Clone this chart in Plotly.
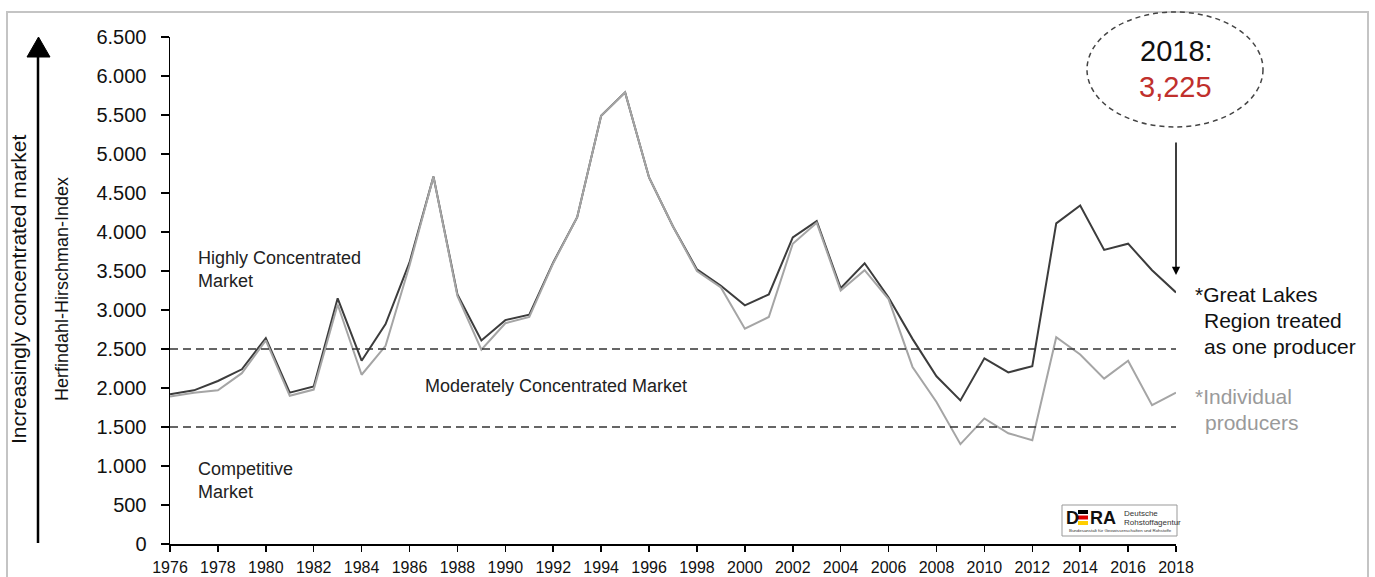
import plotly.graph_objects as go

# Herfindahl-Hirschman-Index, 1976-2018
years = list(range(1976, 2019))
great_lakes_one_producer = [
    1920, 1970, 2090, 2240, 2640, 1940, 2020, 3150, 2350, 2820,
    3610, 4710, 3200, 2610, 2870, 2940, 3610, 4190, 5490, 5790,
    4700, 4070, 3520, 3310, 3060, 3200, 3930, 4140, 3280, 3600,
    3160, 2630, 2150, 1840, 2380, 2200, 2280, 4110, 4340, 3770,
    3850, 3510, 3225,
]
individual_producers = [
    1890, 1940, 1970, 2190, 2610, 1900, 1980, 3070, 2170, 2540,
    3570, 4710, 3180, 2490, 2830, 2910, 3600, 4190, 5490, 5790,
    4700, 4070, 3500, 3290, 2760, 2910, 3850, 4120, 3250, 3510,
    3140, 2270, 1820, 1280, 1610, 1420, 1330, 2650, 2430, 2120,
    2350, 1780, 1940,
]
thresholds = [2500, 1500]
x_tickvals = list(range(1976, 2019, 2))
y_tickvals = list(range(0, 6501, 500))
y_ticktext = ["0", "500", "1.000", "1.500", "2.000", "2.500", "3.000",
              "3.500", "4.000", "4.500", "5.000", "5.500", "6.000", "6.500"]
highlight_label = "3,225"

W, H = 1375, 577
L, R, T, B = 170, 199, 37, 33
PW, PH = W - L - R, H - T - B


def px(x):
    return (x - L) / PW


def py(y):
    return (H - B - y) / PH


FONT = "Liberation Sans, Arial, sans-serif"
BLACK_LINE = "#3c3c3c"
GRAY_LINE = "#a5a5a5"

fig = go.Figure()
fig.add_trace(go.Scatter(x=years, y=great_lakes_one_producer, mode="lines",
                         line=dict(color=BLACK_LINE, width=2), hoverinfo="skip"))
fig.add_trace(go.Scatter(x=years, y=individual_producers, mode="lines",
                         line=dict(color=GRAY_LINE, width=2), hoverinfo="skip"))

shapes = []
# threshold lines
for t in thresholds:
    shapes.append(dict(type="line", xref="x", yref="y", x0=years[0], x1=years[-1],
                       y0=t, y1=t, line=dict(color="#333333", width=1.5, dash="8px,5px")))
# outer frame
shapes.append(dict(type="rect", xref="paper", yref="paper", x0=px(7), x1=px(1368),
                   y0=py(600), y1=py(12), line=dict(color="#c4c4c4", width=2), layer="below"))
# vertical arrow on the left
shapes.append(dict(type="line", xref="paper", yref="paper", x0=px(38), x1=px(38),
                   y0=py(543), y1=py(55), line=dict(color="black", width=2.5)))
shapes.append(dict(type="path", xref="paper", yref="paper",
                   path=f"M {px(27)} {py(57)} L {px(50)} {py(57)} L {px(38.5)} {py(37)} Z",
                   fillcolor="black", line=dict(color="black", width=1)))
# dashed ellipse around the 2018 callout
shapes.append(dict(type="circle", xref="paper", yref="paper", x0=px(1087), x1=px(1263),
                   y0=py(127), y1=py(12), line=dict(color="#444444", width=1.5, dash="5px,4px")))
# DERA logo box and flag-coloured E
shapes.append(dict(type="rect", xref="paper", yref="paper", x0=px(1062), x1=px(1177),
                   y0=py(536), y1=py(505), line=dict(color="#999999", width=1),
                   fillcolor="white"))
for (ya, yb, col) in [(510, 514, "#000000"), (515.5, 519.5, "#dd0000"), (521, 525, "#ffce00")]:
    shapes.append(dict(type="rect", xref="paper", yref="paper", x0=px(1078), x1=px(1088),
                       y0=py(yb), y1=py(ya), line=dict(width=0), fillcolor=col))

ann = []


def text(x, y, s, size, color="#222222", xanchor="left", yanchor="middle", **kw):
    ann.append(dict(xref="paper", yref="paper", x=px(x), y=py(y), text=s, showarrow=False,
                    xanchor=xanchor, yanchor=yanchor,
                    font=dict(family=FONT, size=size, color=color), **kw))


text(196, 258, "Highly Concentrated", 18)
text(196, 281, "Market", 18)
text(423, 386, "Moderately Concentrated Market", 18)
text(196, 469, "Competitive", 18)
text(196, 492, "Market", 18)

text(1193, 295, "*Great Lakes", 21, color="#111111")
text(1202, 320, "Region treated", 21, color="#111111")
text(1202, 346, "as one producer", 21, color="#111111")
text(1193, 396, "*Individual", 21, color="#9a9a9a")
text(1203, 422, "producers", 21, color="#9a9a9a")

text(1176, 51, "2018:", 29, color="#111111", xanchor="center")
text(1175, 87, highlight_label, 29, color="#c0302c", xanchor="center")

text(18, 290, "Increasingly concentrated market", 21, color="#111111",
     xanchor="center", textangle=-90)
text(62, 289, "Herfindahl-Hirschman-Index", 18, color="#111111",
     xanchor="center", textangle=-90)

# logo lettering
text(1064, 518, "<b>D</b>", 18, color="#111111")
text(1088, 518, "<b>RA</b>", 18, color="#111111")
text(1122, 513, "Deutsche", 8, color="#333333")
text(1122, 522, "Rohstoffagentur", 8, color="#333333")
text(1120, 530.5, "Bundesanstalt für Geowissenschaften und Rohstoffe", 4.4,
     color="#333333", xanchor="center")

# arrow from the callout to the last 2018 value
ann.append(dict(xref="x", yref="y", x=years[-1], y=great_lakes_one_producer[-1] + 224,
                ax=0, ay=-134, text="", showarrow=True, arrowhead=2, arrowsize=1.1,
                arrowwidth=1.5, arrowcolor="black"))

fig.update_layout(
    width=W, height=H,
    margin=dict(l=L, r=R, t=T, b=B, autoexpand=False),
    paper_bgcolor="white", plot_bgcolor="white",
    showlegend=False,
    shapes=shapes, annotations=ann,
    font=dict(family=FONT, color="#111111"),
)
fig.update_xaxes(range=[years[0], years[-1]], tickvals=x_tickvals, showgrid=False,
                 zeroline=False, showline=True, linecolor="black", linewidth=1.5,
                 ticks="outside", ticklen=6, tickcolor="black", tickwidth=1.5,
                 ticklabelstandoff=2, automargin=False,
                 tickfont=dict(size=16, color="#111111"), fixedrange=True)
fig.update_yaxes(range=[0, 6500], tickvals=y_tickvals, ticktext=y_ticktext, showgrid=False,
                 zeroline=False, showline=True, linecolor="black", linewidth=1.5,
                 ticks="outside", ticklen=8, tickcolor="black", tickwidth=1.5,
                 ticklabelstandoff=10, automargin=False,
                 tickfont=dict(size=20, color="#111111"), fixedrange=True)

fig.write_html("out.html", config=dict(displayModeBar=False, staticPlot=True))
